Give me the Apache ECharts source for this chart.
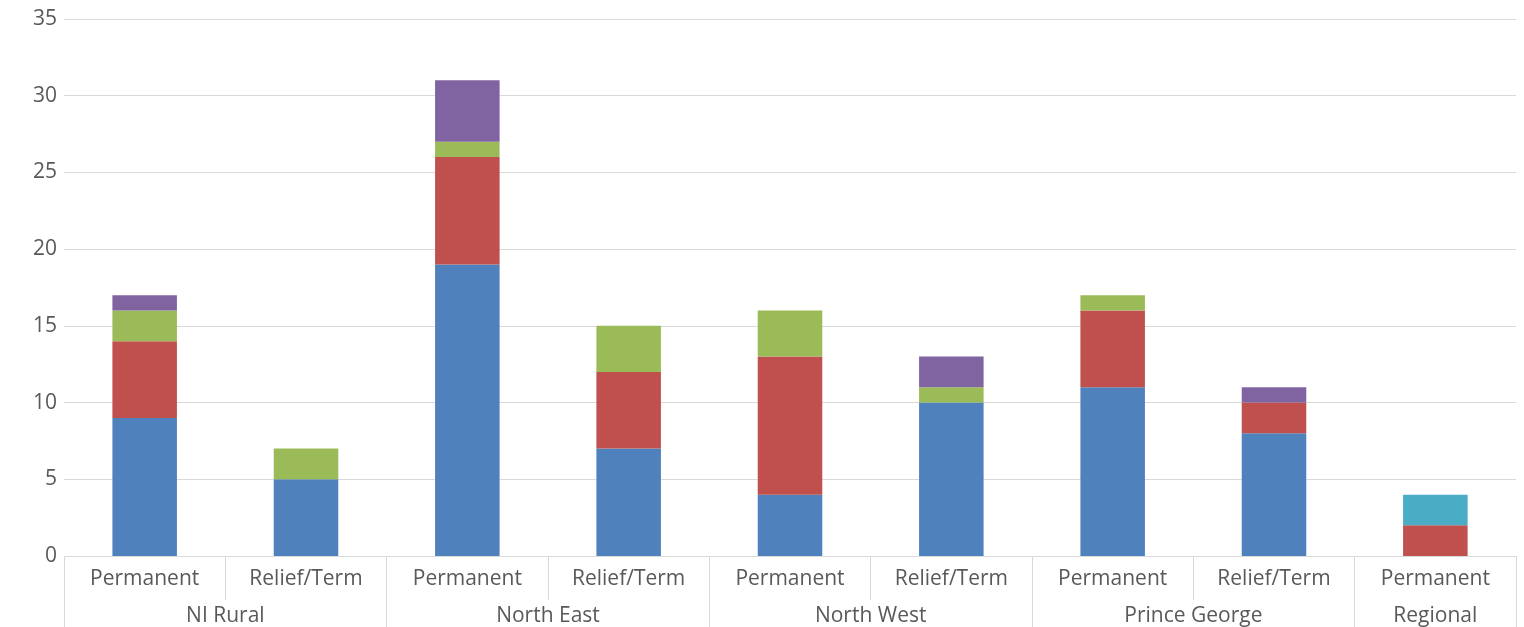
<!DOCTYPE html>
<html><head><meta charset="utf-8">
<script src="https://cdn.jsdelivr.net/npm/echarts@6/dist/echarts.min.js"></script>
<style>html,body{margin:0;padding:0;background:#fff}#c{width:1524px;height:627px}</style>
</head><body><div id="c"></div>
<script>
const categories = ["Permanent","Relief/Term","Permanent","Relief/Term","Permanent","Relief/Term","Permanent","Relief/Term","Permanent"];
const groups = ["NI Rural","North East","North West","Prince George","Regional"];
const groupSpans = [2,2,2,2,1];
const yTicks = [0,5,10,15,20,25,30,35];
const seriesBlue   = [9,5,19,7,4,10,11,8,null];
const seriesRed    = [5,null,7,5,9,null,5,2,2];
const seriesGreen  = [2,2,1,3,3,1,1,null,null];
const seriesPurple = [1,null,4,null,null,2,null,1,null];
const seriesTeal   = [null,null,null,null,null,null,null,null,2];

const groupBounds=[0]; groupSpans.forEach(s=>groupBounds.push(groupBounds[groupBounds.length-1]+s));
const groupCenters=groups.map((g,i)=>(groupBounds[i]+groupBounds[i+1])/2);

const font='"Open Sans", "Liberation Sans", sans-serif';
const chart=echarts.init(document.getElementById('c'));
const mk=(name,data,color)=>({name,type:'bar',stack:'s',data,barCategoryGap:'60%',itemStyle:{color},xAxisIndex:0});
chart.setOption({
  animation:false,
  grid:{left:64,right:8,top:19,bottom:71,containLabel:false},
  xAxis:[
    {type:'category',data:categories,position:'bottom',
     axisLine:{lineStyle:{color:'#d9d9d9'}},
     axisTick:{show:true,length:44,lineStyle:{color:'#d9d9d9'}},
     axisLabel:{color:'#595959',fontSize:21,fontFamily:font,margin:13,interval:0}},
    {type:'value',min:0,max:9,position:'bottom',
     axisLine:{show:false},splitLine:{show:false},
     axisTick:{show:true,length:71,customValues:groupBounds,lineStyle:{color:'#d9d9d9'}},
     axisLabel:{show:true,customValues:groupCenters,color:'#595959',fontSize:21,fontFamily:font,margin:50,
       formatter:(v)=>{const i=groupCenters.indexOf(v);return i>=0?groups[i]:'';}}}
  ],
  yAxis:{type:'value',min:0,max:35,interval:5,
    axisLine:{show:false},axisTick:{show:false},
    splitLine:{lineStyle:{color:'#d9d9d9'}},
    axisLabel:{color:'#595959',fontSize:21,fontFamily:font,margin:7,
      formatter:(v)=>yTicks.includes(v)?String(v):''}},
  series:[
    mk('Blue',seriesBlue,'#4F81BD'),
    mk('Red',seriesRed,'#C0504D'),
    mk('Green',seriesGreen,'#9BBB59'),
    mk('Purple',seriesPurple,'#8064A2'),
    mk('Teal',seriesTeal,'#4BACC6')
  ]
});
</script></body></html>
